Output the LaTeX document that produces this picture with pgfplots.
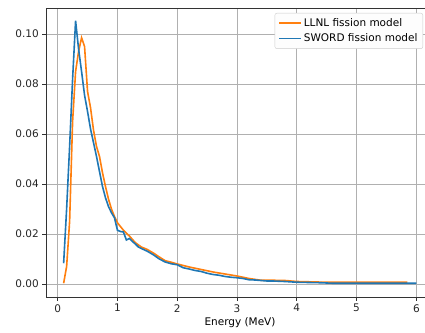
\documentclass[border=0pt]{standalone}
\usepackage{fontspec}
\setmainfont{DejaVu Sans}
\usepackage{pgfplots}
\pgfplotsset{compat=1.18}
\definecolor{mplblue}{HTML}{1F77B4}
\definecolor{mplorange}{HTML}{FF7F0E}
\definecolor{gridgray}{HTML}{B0B0B0}
\definecolor{legframe}{HTML}{CCCCCC}
\definecolor{legfill}{HTML}{FDFDFD}
\begin{document}
\begin{tikzpicture}
\begin{axis}[
  scale only axis,
  width=388pt, height=289pt,
  xmin=-0.195, xmax=6.295,
  ymin=-0.0052, ymax=0.1104,
  xtick={0,1,2,3,4,5,6},
  ytick={0,0.02,0.04,0.06,0.08,0.10},
  yticklabel style={/pgf/number format/.cd, fixed, fixed zerofill, precision=2},
  /pgf/number format/assume math mode=true,
  tick label style={font=\fontsize{10.5}{12.5}\selectfont, text=black!85},
  label style={font=\fontsize{10.5}{12.5}\selectfont},
  xlabel={Energy (MeV)},
  xlabel style={yshift=2pt},
  tick align=outside, tick pos=left,
  major tick length=3.7pt,
  every tick/.style={black!80, line width=0.85pt},
  axis line style={black!80, line width=0.85pt},
  grid=major,
  major grid style={gridgray, line width=0.85pt},
  legend style={at={(1,1)}, anchor=north east, xshift=-11pt, yshift=-5pt,
    draw=legframe, rounded corners=2pt, fill=legfill,
    font=\fontsize{10.5}{12.5}\selectfont, inner sep=3.3pt, row sep=1.9pt},
  legend cell align=left,
  legend image code/.code={\draw[line width=1.7pt,#1,line width=1.7pt] (0pt,0pt) -- (22pt,0pt);},
]
\addplot[color=mplorange, line width=1.6pt] coordinates {
(0.10,0.0003) (0.15,0.007) (0.20,0.025) (0.25,0.065) (0.30,0.085) (0.35,0.093)
(0.40,0.0985) (0.45,0.095) (0.50,0.077) (0.55,0.0705) (0.60,0.0615) (0.65,0.055)
(0.70,0.051) (0.75,0.0445) (0.80,0.039) (0.85,0.034) (0.90,0.030) (0.95,0.027)
(1.00,0.0245) (1.10,0.0215) (1.20,0.0192) (1.30,0.0165) (1.40,0.0148) (1.50,0.0138)
(1.60,0.0124) (1.70,0.0108) (1.80,0.0093) (1.90,0.0087) (2.00,0.0080) (2.20,0.0068)
(2.40,0.0058) (2.60,0.0048) (2.80,0.0040) (3.00,0.0032) (3.20,0.0022) (3.40,0.0015)
(3.60,0.0015) (3.80,0.0014) (4.00,0.0010) (4.50,0.0007) (5.00,0.0007) (5.50,0.0007)
(5.85,0.0007)
};
\addlegendentry{LLNL fission model}
\addplot[color=mplblue, line width=1.6pt] coordinates {
(0.10,0.0083) (0.15,0.030) (0.20,0.055) (0.25,0.082) (0.30,0.1053) (0.35,0.094)
(0.40,0.085) (0.45,0.0755) (0.50,0.069) (0.55,0.062) (0.60,0.0565) (0.65,0.051)
(0.70,0.045) (0.75,0.039) (0.80,0.0345) (0.85,0.031) (0.90,0.0285) (0.95,0.0265)
(1.00,0.0215) (1.05,0.0210) (1.10,0.0208) (1.15,0.0176) (1.20,0.0182) (1.25,0.0170)
(1.30,0.0160) (1.35,0.0148) (1.40,0.0142) (1.50,0.0131) (1.60,0.0117) (1.70,0.0100)
(1.80,0.0088) (1.90,0.0081) (2.00,0.0077) (2.10,0.0065) (2.20,0.0060) (2.30,0.0054)
(2.40,0.0050) (2.50,0.0043) (2.60,0.0038) (2.70,0.0035) (2.80,0.0030) (2.90,0.0027)
(3.00,0.0025) (3.10,0.0022) (3.20,0.0017) (3.30,0.0016) (3.40,0.0014) (3.50,0.0012)
(3.60,0.0012) (3.80,0.0010) (4.00,0.0007) (4.20,0.0006) (4.40,0.0005) (4.60,0.0003)
(5.00,0.0003) (5.50,0.0003) (6.00,0.0003)
};
\addlegendentry{SWORD fission model}
\end{axis}
\pgfresetboundingbox
\path[use as bounding box] ([shift={(-46pt,-36pt)}]current axis.south west) rectangle ([shift={(379pt,8pt)}]current axis.north west);
\end{tikzpicture}
\end{document}
